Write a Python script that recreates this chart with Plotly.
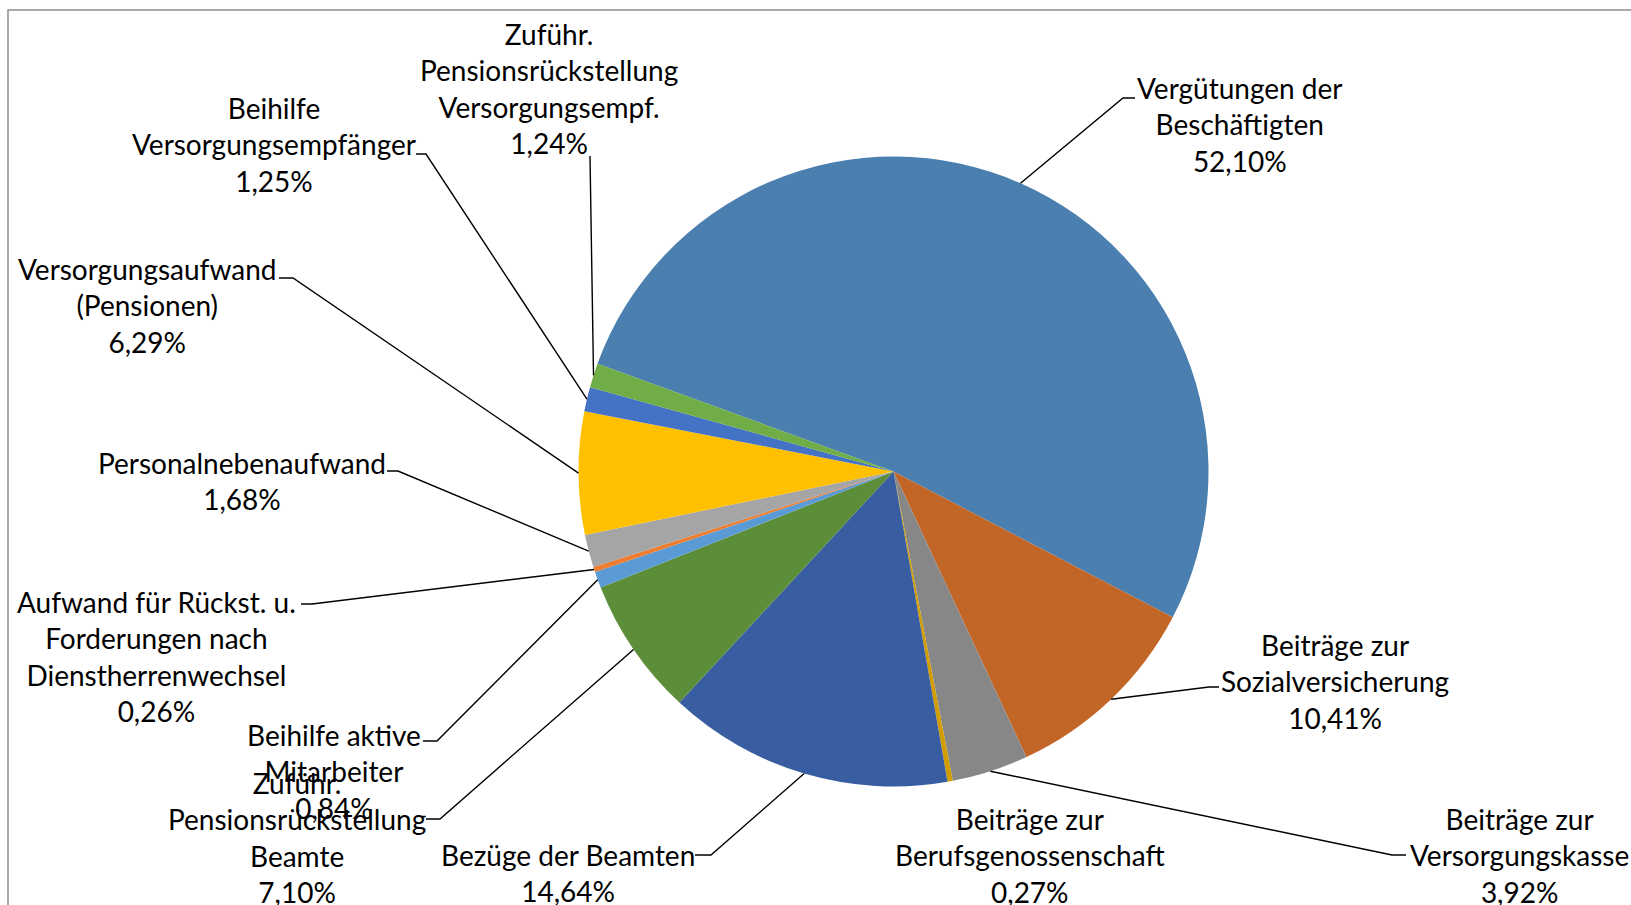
import math
import plotly.graph_objects as go

# ---------------- data ----------------
categories = [
    "Vergütungen der<br>Beschäftigten",
    "Beiträge zur<br>Sozialversicherung",
    "Beiträge zur<br>Versorgungskasse",
    "Beiträge zur<br>Berufsgenossenschaft",
    "Bezüge der Beamten",
    "Zuführ.<br>Pensionsrückstellung<br>Beamte",
    "Beihilfe aktive<br>Mitarbeiter",
    "Aufwand für Rückst. u.<br>Forderungen nach<br>Dienstherrenwechsel",
    "Personalnebenaufwand",
    "Versorgungsaufwand<br>(Pensionen)",
    "Beihilfe<br>Versorgungsempfänger",
    "Zuführ.<br>Pensionsrückstellung<br>Versorgungsempf.",
]
values = [52.10, 10.41, 3.92, 0.27, 14.64, 7.10, 0.84, 0.26, 1.68, 6.29, 1.25, 1.24]
colors = ["#4B7FAF", "#C26628", "#878787", "#D19D00", "#385DA1", "#5C8E3A",
          "#5B9BD5", "#ED7D31", "#A5A5A5", "#FFC000", "#4472C4", "#70AD47"]

# ---------------- layout constants (pixels) ----------------
W, H = 1631, 905
CX, CY, R = 893.5, 471.5, 315.0
ROTATION = -70.0

# label block centre (x, y) and leader elbow / end points (pixels); None = no leader
label_pos = [(1240, 125), (1335, 681), (1519, 855), (1030, 855), (568, 873), (297, 837),
             (334, 771), (156, 656), (242, 481), (147, 306), (274, 144), (549, 88)]
leader_elbow = [(1123, 98), (1209, 687), (1392, 855), None, (711, 855), (440, 819),
                (437, 741), (312, 604), (398, 471), (293, 278), (426, 154), (590, 156)]
leader_end = [(1135, 98), (1219, 687), (1406, 855), None, (695, 855), (426, 819),
              (423, 741), (301, 604), (387, 471), (279, 278), (416, 154), (590, 156)]


def px(x):
    return x / W


def py(y):
    return 1 - y / H


fig = go.Figure()
fig.add_trace(go.Pie(
    labels=categories,
    values=values,
    sort=False,
    direction="clockwise",
    rotation=ROTATION,
    marker=dict(colors=colors, line=dict(width=0)),
    textinfo="none",
    hoverinfo="label+percent",
    showlegend=False,
    domain=dict(x=[px(CX - R), px(CX + R)], y=[py(CY + R), py(CY - R)]),
))

# mid angles of slices from the data
total = sum(values)
mids = []
a = ROTATION
for v in values:
    span = 360.0 * v / total
    mids.append(a + span / 2)
    a += span

shapes = [dict(type="rect", xref="paper", yref="paper",
               x0=px(8), y0=py(10), x1=px(1700), y1=py(1000),
               line=dict(color="#8c8c8c", width=1.5), fillcolor="rgba(0,0,0,0)", layer="below")]
annotations = []
for i, v in enumerate(values):
    pct = f"{v:.2f}".replace(".", ",") + "%"
    lx, ly = label_pos[i]
    annotations.append(dict(
        x=px(lx), y=py(ly), xref="paper", yref="paper",
        text=categories[i] + "<br>" + pct,
        showarrow=False, xanchor="center", yanchor="middle", align="center",
        font=dict(family="Lato", size=28, color="#000000"),
    ))
    if leader_elbow[i] is not None:
        m = math.radians(mids[i])
        ex = CX + R * math.sin(m)
        ey = CY - R * math.cos(m)
        bx, by = leader_elbow[i]
        tx, ty = leader_end[i]
        path = f"M {px(ex)},{py(ey)} L {px(bx)},{py(by)} L {px(tx)},{py(ty)}"
        shapes.append(dict(type="path", xref="paper", yref="paper", path=path,
                           line=dict(color="#000000", width=1.4)))

fig.update_layout(
    width=W, height=H,
    margin=dict(l=0, r=0, t=0, b=0),
    paper_bgcolor="white",
    plot_bgcolor="white",
    shapes=shapes,
    annotations=annotations,
)

fig.write_html("out.html")
